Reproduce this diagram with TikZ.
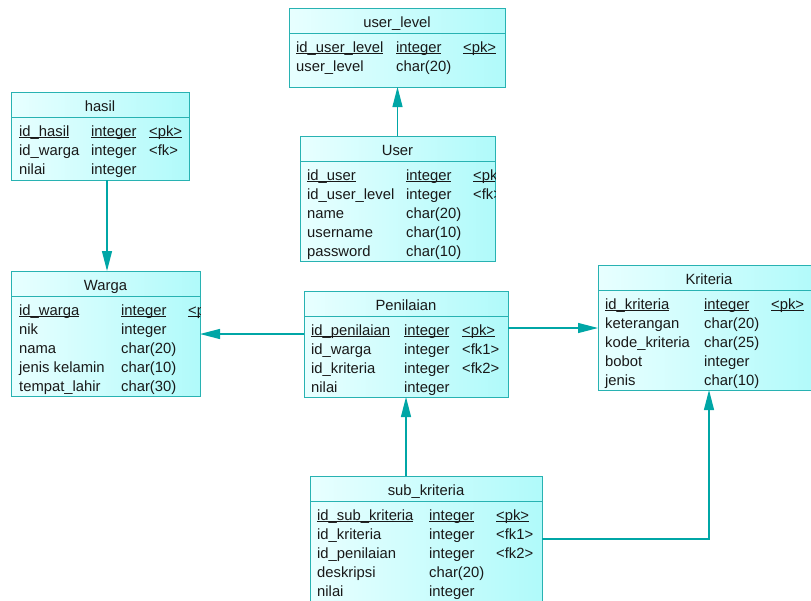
\documentclass[tikz,border=0pt]{standalone}
\usepackage{fontspec}
\setmainfont{Liberation Sans}
\usetikzlibrary{arrows.meta,calc}
\definecolor{erdline}{RGB}{0,166,166}
\definecolor{erdborder}{RGB}{40,178,178}
\definecolor{erdlight}{RGB}{232,255,255}
\definecolor{erdfill}{RGB}{176,250,250}
\definecolor{erdtext}{RGB}{25,25,25}
\newcommand\pkul[1]{\setbox0\hbox{#1}\rlap{\rule[-1.6pt]{\wd0}{.8pt}}\box0}
\tikzset{
 tbl/.style={draw=erdborder,line width=1pt,left color=erdlight,right color=erdfill,
  inner sep=0,outer sep=0,anchor=north west},
 cell/.style={anchor=base west,inner sep=0,text=erdtext,font=\fontsize{14.8}{17}\selectfont},
 title/.style={cell,anchor=base},
 divider/.style={draw=erdborder,line width=1pt},
 fk/.style={draw=erdline,line width=1.2pt,-{Triangle[length=20pt,width=10pt]}},
}
\begin{document}
\begin{tikzpicture}[x=1pt,y=-1pt]
 \useasboundingbox (0,0) rectangle (811,600);
 \clip (0,0) rectangle (811,600);
 % tables
 \node[tbl,minimum width=216pt,minimum height=79pt] (ulevel) at (289,8) {};
 \node[tbl,minimum width=178pt,minimum height=88pt] (hasil) at (11,92) {};
 \node[tbl,minimum width=195pt,minimum height=125pt] (user) at (300,136) {};
 \node[tbl,minimum width=189pt,minimum height=125pt] (warga) at (11,271) {};
 \node[tbl,minimum width=204pt,minimum height=106pt] (penilaian) at (304,291) {};
 \node[tbl,minimum width=222pt,minimum height=125pt] (kriteria) at (598,265) {};
 \node[tbl,minimum width=232pt,minimum height=135pt] (sub) at (310,476) {};
 % titles and dividers
 \foreach \t/\txt in {ulevel/user\_level,hasil/hasil,user/User,warga/Warga,
  penilaian/Penilaian,kriteria/Kriteria,sub/sub\_kriteria}{
  \node[title] (\t-title) at ($(\t.north)+(0,19)$) {\txt};
  \draw[divider] ($(\t.north west)+(0,25)$) -- ($(\t.north east)+(0,25)$);}
 % columns
 \foreach \n/\ty/\k [count=\i] in {\pkul{id\_user\_level}/\pkul{integer}/\pkul{<pk>},
  user\_level/char(20)/{}}{
  \node[cell] (ulevel-n\i) at ($(ulevel.north west)+(7,25+19*\i)$) {\n};
  \node[cell] (ulevel-t\i) at ($(ulevel.north west)+(107,25+19*\i)$) {\ty};
  \node[cell] (ulevel-k\i) at ($(ulevel.north west)+(174,25+19*\i)$) {\k};}
 \foreach \n/\ty/\k [count=\i] in {\pkul{id\_hasil}/\pkul{integer}/\pkul{<pk>},
  id\_warga/integer/<fk>,nilai/integer/{}}{
  \node[cell] (hasil-n\i) at ($(hasil.north west)+(8,25+19*\i)$) {\n};
  \node[cell] (hasil-t\i) at ($(hasil.north west)+(80,25+19*\i)$) {\ty};
  \node[cell] (hasil-k\i) at ($(hasil.north west)+(138,25+19*\i)$) {\k};}
 \begin{scope}
  \clip (user.north west) rectangle (user.south east);
  \foreach \n/\ty/\k [count=\i] in {\pkul{id\_user}/\pkul{integer}/\pkul{<pk>},
   id\_user\_level/integer/<fk>,name/char(20)/{},username/char(10)/{},password/char(10)/{}}{
   \node[cell] (user-n\i) at ($(user.north west)+(7,25+19*\i)$) {\n};
   \node[cell] (user-t\i) at ($(user.north west)+(106,25+19*\i)$) {\ty};
   \node[cell] (user-k\i) at ($(user.north west)+(173,25+19*\i)$) {\k};}
 \end{scope}
 \begin{scope}
  \clip (warga.north west) rectangle (warga.south east);
  \foreach \n/\ty/\k [count=\i] in {\pkul{id\_warga}/\pkul{integer}/\pkul{<pk>},
   nik/integer/{},nama/char(20)/{},jenis kelamin/char(10)/{},tempat\_lahir/char(30)/{}}{
   \node[cell] (warga-n\i) at ($(warga.north west)+(8,25+19*\i)$) {\n};
   \node[cell] (warga-t\i) at ($(warga.north west)+(110,25+19*\i)$) {\ty};
   \node[cell] (warga-k\i) at ($(warga.north west)+(177,25+19*\i)$) {\k};}
 \end{scope}
 \foreach \n/\ty/\k [count=\i] in {\pkul{id\_penilaian}/\pkul{integer}/\pkul{<pk>},
  id\_warga/integer/<fk1>,id\_kriteria/integer/<fk2>,nilai/integer/{}}{
  \node[cell] (penilaian-n\i) at ($(penilaian.north west)+(7,25+19*\i)$) {\n};
  \node[cell] (penilaian-t\i) at ($(penilaian.north west)+(100,25+19*\i)$) {\ty};
  \node[cell] (penilaian-k\i) at ($(penilaian.north west)+(158,25+19*\i)$) {\k};}
 \foreach \n/\ty/\k [count=\i] in {\pkul{id\_kriteria}/\pkul{integer}/\pkul{<pk>},
  keterangan/char(20)/{},kode\_kriteria/char(25)/{},bobot/integer/{},jenis/char(10)/{}}{
  \node[cell] (kriteria-n\i) at ($(kriteria.north west)+(7,25+19*\i)$) {\n};
  \node[cell] (kriteria-t\i) at ($(kriteria.north west)+(106,25+19*\i)$) {\ty};
  \node[cell] (kriteria-k\i) at ($(kriteria.north west)+(173,25+19*\i)$) {\k};}
 \foreach \n/\ty/\k [count=\i] in {\pkul{id\_sub\_kriteria}/\pkul{integer}/\pkul{<pk>},
  id\_kriteria/integer/<fk1>,id\_penilaian/integer/<fk2>,deskripsi/char(20)/{},nilai/integer/{}}{
  \node[cell] (sub-n\i) at ($(sub.north west)+(7,25+19*\i)$) {\n};
  \node[cell] (sub-t\i) at ($(sub.north west)+(119,25+19*\i)$) {\ty};
  \node[cell] (sub-k\i) at ($(sub.north west)+(186,25+19*\i)$) {\k};}
 % references
 \draw[fk] (user.north) -- (user.north |- ulevel.south);
 \draw[fk] ($(hasil.south)+(7,0)$) coordinate (h1) -- (h1 |- warga.north);
 \draw[fk] ($(penilaian.north west)+(0,43)$) coordinate (p1) -- (p1 -| warga.east);
 \draw[fk] ($(penilaian.north east)+(0,37)$) coordinate (p2) -- (p2 -| kriteria.west);
 \draw[fk] (sub.north -| penilaian.south) -- (penilaian.south);
 \draw[fk] ($(sub.north east)+(0,63)$) -| (kriteria.south);
\end{tikzpicture}
\end{document}
